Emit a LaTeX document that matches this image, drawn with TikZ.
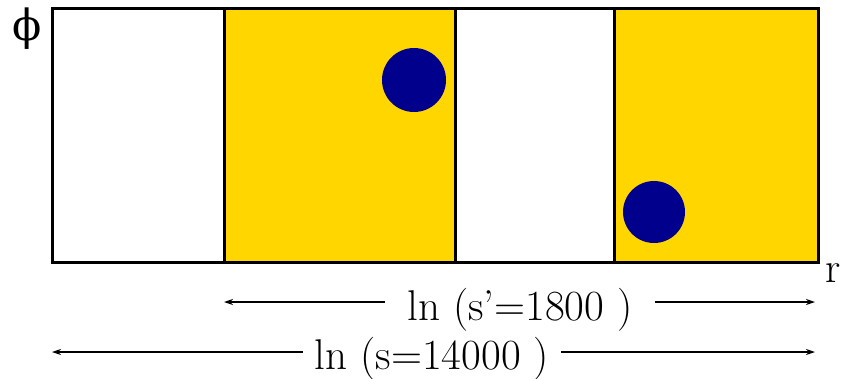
\documentclass[tikz,border=0pt]{standalone}
\usepackage{fontspec}
\newfontfamily\grkfont{DejaVu Serif}
\usetikzlibrary{arrows.meta}
\definecolor{cellyellow}{RGB}{255,214,0}
\definecolor{dotblue}{RGB}{0,0,140}

\begin{document}
\begin{tikzpicture}[x=1pt,y=-1pt,
  lbl/.style={font=\rmfamily\fontsize{43}{46}\selectfont,inner sep=0pt},
  dim/.style={line width=1.5pt,-{Stealth[length=9pt,width=6pt]}}]
  \useasboundingbox (0,0) rectangle (842,378);
  % cells
  \fill[cellyellow] (224,8) rectangle (455,262);
  \fill[cellyellow] (614,8) rectangle (818,262);
  \draw[line width=3pt] (52,8) rectangle (818,262);
  \foreach \xx in {224,455,614}
    \draw[line width=3pt] (\xx,8) -- (\xx,262);
  % particles
  \fill[dotblue] (414,80) circle (32);
  \fill[dotblue] (654,212) circle (31);
  % axes
  \node[lbl] (phi) at (27,29) {\grkfont ϕ};
  \node[lbl,anchor=base] (rr) at (833,282) {r};
  % lengths
  \coordinate (sl) at (224,302);
  \coordinate (sr) at (815,302);
  \coordinate (tl) at (52,352);
  \coordinate (tr) at (815,352);
  \node[lbl,anchor=base,inner xsep=22pt] (stext) at (520,320) {ln (s’=1800 )};
  \node[lbl,anchor=base,inner xsep=12pt] (ttext) at (432,369) {ln (s=14000 )};
  \draw[dim] (stext.west |- sl) -- (sl);
  \draw[dim] (stext.east |- sr) -- (sr);
  \draw[dim] (ttext.west |- tl) -- (tl);
  \draw[dim] (ttext.east |- tr) -- (tr);
\end{tikzpicture}
\end{document}
